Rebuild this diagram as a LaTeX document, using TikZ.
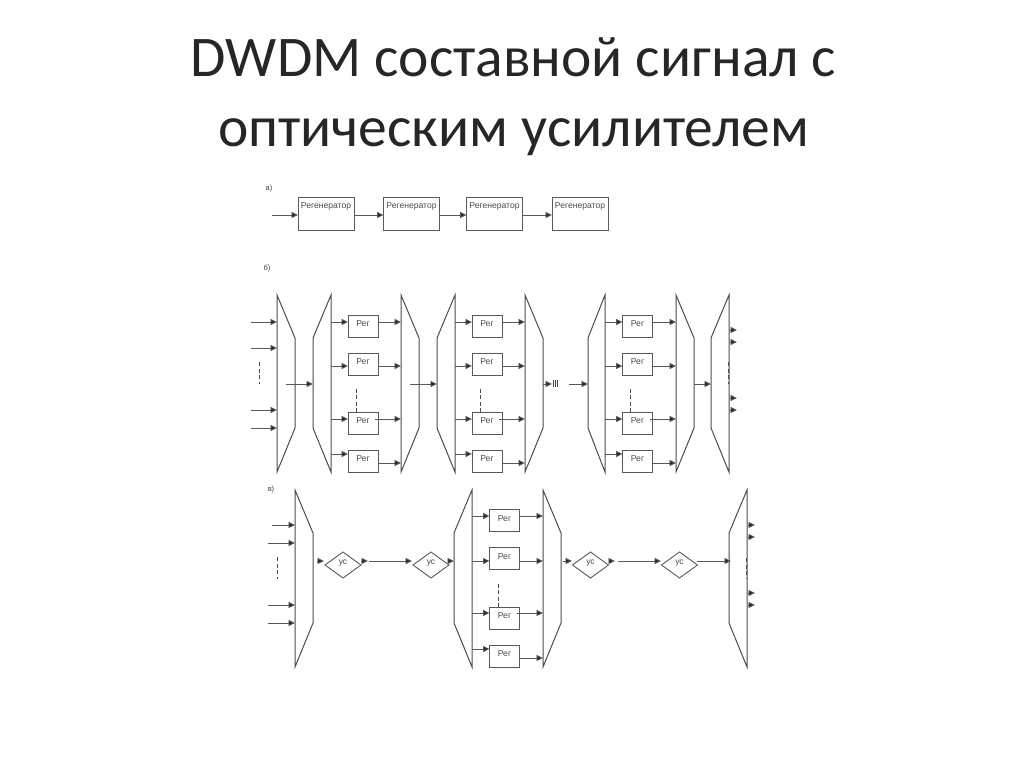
\documentclass[tikz,border=0pt]{standalone}
\usepackage{fontspec}
\setmainfont{Liberation Sans}
\newfontfamily\titlefont{Carlito}
\usetikzlibrary{arrows.meta,calc,positioning,shapes.geometric}

\tikzset{
  sig/.style={draw=black!65,line width=0.9pt,-{Triangle[length=6.5pt,width=6pt,fill=black!85]}},
  regbox/.style={draw=black!65,line width=1pt,minimum width=56pt,minimum height=33pt,inner sep=0pt,outer sep=0pt,
    font=\fontsize{8.6}{10}\selectfont,text=black!70,text height=6pt,text depth=18pt},
  regsmall/.style={draw=black!65,line width=1pt,minimum width=30pt,minimum height=22pt,inner sep=0pt,outer sep=0pt,
    font=\fontsize{8.6}{10}\selectfont,text=black!70,text height=6pt,text depth=5pt},
  amp/.style={diamond,draw=black!65,line width=0.9pt,minimum width=36pt,minimum height=26pt,inner sep=0pt,outer sep=0pt,
    font=\fontsize{8.6}{10}\selectfont,text=black!70,text height=6pt,text depth=7pt},
  trap/.style={draw=black!70,line width=1pt,line join=miter},
  gaps/.style={draw=black!70,line width=1pt,dash pattern=on 4pt off 2.5pt},
  tag/.style={font=\fontsize{7.5}{9}\selectfont,text=black!75,inner sep=0pt},
}

\begin{document}
\begin{tikzpicture}[x=1pt,y=-1pt]
  \useasboundingbox (0,0) rectangle (1024,767);
  \node[font=\titlefont\fontsize{57.5}{70}\selectfont,align=center,text=black!85,anchor=north] (title) at (513.5,34)
    {DWDM составной сигнал с\\оптическим усилителем};

  % a) chain of regenerators
  \node[tag] (laba) at (269,189) {а)};
  \coordinate (ina) at (272,215);
  \foreach \n/\x in {1/326,2/411.5,3/494.5,4/580}
    \node[regbox] (reg\n) at (\x,214.5) {Регенератор};
  \draw[sig] (ina) -- (reg1.west |- ina);
  \foreach \a/\b in {1/2,2/3,3/4}
    \draw[sig] (reg\a.east |- ina) -- (reg\b.west |- ina);

  % b) demultiplexers and regenerators
  \node[tag] (labb) at (267,269) {б)};
  \foreach \nm/\xa/\xb in {ba/277/295,bb/331/313,bc/401/419,bd/455/437,be/525/543,bf/605/588,bg/676/694,bh/729/711} {
    \draw[trap] (\xa,295) -- (\xb,338) -- (\xb,428) -- (\xa,472) -- cycle;
    \coordinate (\nm) at (\xa,384);
    \coordinate (\nm s) at (\xb,384);
  }
  \foreach \c/\x/\lft/\rgt in {1/363/bb/bc,2/487/bd/be,3/637.5/bf/bg} {
    \foreach \r/\yc/\yi/\yo/\s in {1/326/322/322/0,2/364/366/366/0,3/423/419/419/-3,4/461/454/463/0} {
      \node[regsmall] (b\c\r) at (\x,\yc) {Рег};
      \draw[sig] (\lft |- 0,\yi) -- (b\c\r.west |- 0,\yi);
      \draw[sig] ($(b\c\r.east |- 0,\yo)+(\s,0)$) -- (\rgt |- 0,\yo);
    }
    \draw[gaps] ($(b\c3.north)+(-7,0)$) -- ++(0,-24);
  }
  \foreach \y in {322,348,410,428} {
    \coordinate (bin) at (251,\y);
    \draw[sig] (bin) -- (ba |- bin);
  }
  \foreach \y in {330,342,398,410} {
    \coordinate (bout) at (737,\y);
    \draw[sig] (bh |- bout) ++(1,0) -- (bout);
  }
  \draw[gaps] (259,362) -- (259,384);
  \draw[gaps,line width=0.8pt] (728,362) -- (728,384);
  \coordinate (b1from) at (286,384);
  \coordinate (b2from) at (410,384);
  \coordinate (b3from) at (569,384);
  \coordinate (b3to) at (552,384);
  \draw[sig] (b1from) -- (bbs);
  \draw[sig] (b2from) -- (bds);
  \draw[sig] (bes) -- (b3to);
  \draw[sig] (b3from) -- (bfs);
  \draw[sig] (bgs) -- (bhs);
  \foreach \x in {553.5,555.5,557.5}
    \draw[black!75,line width=1pt] (\x,380) -- (\x,387);

  % c) with optical amplifiers
  \node[tag] (labc) at (271,490) {в)};
  \foreach \nm/\xa/\xb in {ca/295/313,cb/472/454,cc/543/561,cd/747/729} {
    \draw[trap] (\xa,490) -- (\xb,533) -- (\xb,623) -- (\xa,667) -- cycle;
    \coordinate (\nm) at (\xa,561);
    \coordinate (\nm s) at (\xb,561);
  }
  \foreach \r/\yc/\yi/\yo/\s in {1/520.5/516/516/0,2/558.5/561/561/0,3/618/613/613/-3,4/656/649/658/0} {
    \node[regsmall] (c\r) at (504.5,\yc) {Рег};
    \draw[sig] (cb |- 0,\yi) -- (c\r.west |- 0,\yi);
    \draw[sig] ($(c\r.east |- 0,\yo)+(\s,0)$) -- (cc |- 0,\yo);
  }
  \draw[gaps] ($(c3.north)+(-6.5,0)$) -- ++(0,-24);
  \foreach \n/\x in {1/343,2/431,3/590.5,4/679.5}
    \node[amp] (us\n) at (\x,565) {ус};
  \foreach \x/\y in {272/525,268/543,268/605,268/623} {
    \coordinate (cin) at (\x,\y);
    \draw[sig] (cin) -- (ca |- cin);
  }
  \foreach \y in {525,537,593,605} {
    \coordinate (cout) at (755,\y);
    \draw[sig] (cd |- cout) ++(1,0) -- (cout);
  }
  \draw[gaps] (277,557) -- (277,579);
  \draw[gaps,line width=0.8pt] (746,558) -- (746,579);
  \coordinate (c1from) at (317,561);
  \coordinate (c1to) at (324,561);
  \coordinate (c2to) at (368,561);
  \coordinate (c2from) at (369,561);
  \coordinate (c3to) at (454,561);
  \coordinate (c4from) at (563,561);
  \coordinate (c4to) at (572,561);
  \coordinate (c5to) at (615,561);
  \coordinate (c5from) at (618,561);
  \coordinate (c6to) at (661,561);
  \coordinate (c6from) at (697,561);
  \coordinate (c7to) at (731,561);
  \coordinate (c1u) at (412,561);
  \draw[sig] (c1from) -- (c1to);
  \draw[sig] (us1.east |- c2to) -- (c2to);
  \draw[sig] (c2from) -- (c1u);
  \draw[sig] (us2.east |- c3to) -- (c3to);
  \draw[sig] (c4from) -- (c4to);
  \draw[sig] (us3.east |- c5to) -- (c5to);
  \draw[sig] (c5from) -- (c6to);
  \draw[sig] (c6from) -- (c7to);
\end{tikzpicture}
\end{document}
